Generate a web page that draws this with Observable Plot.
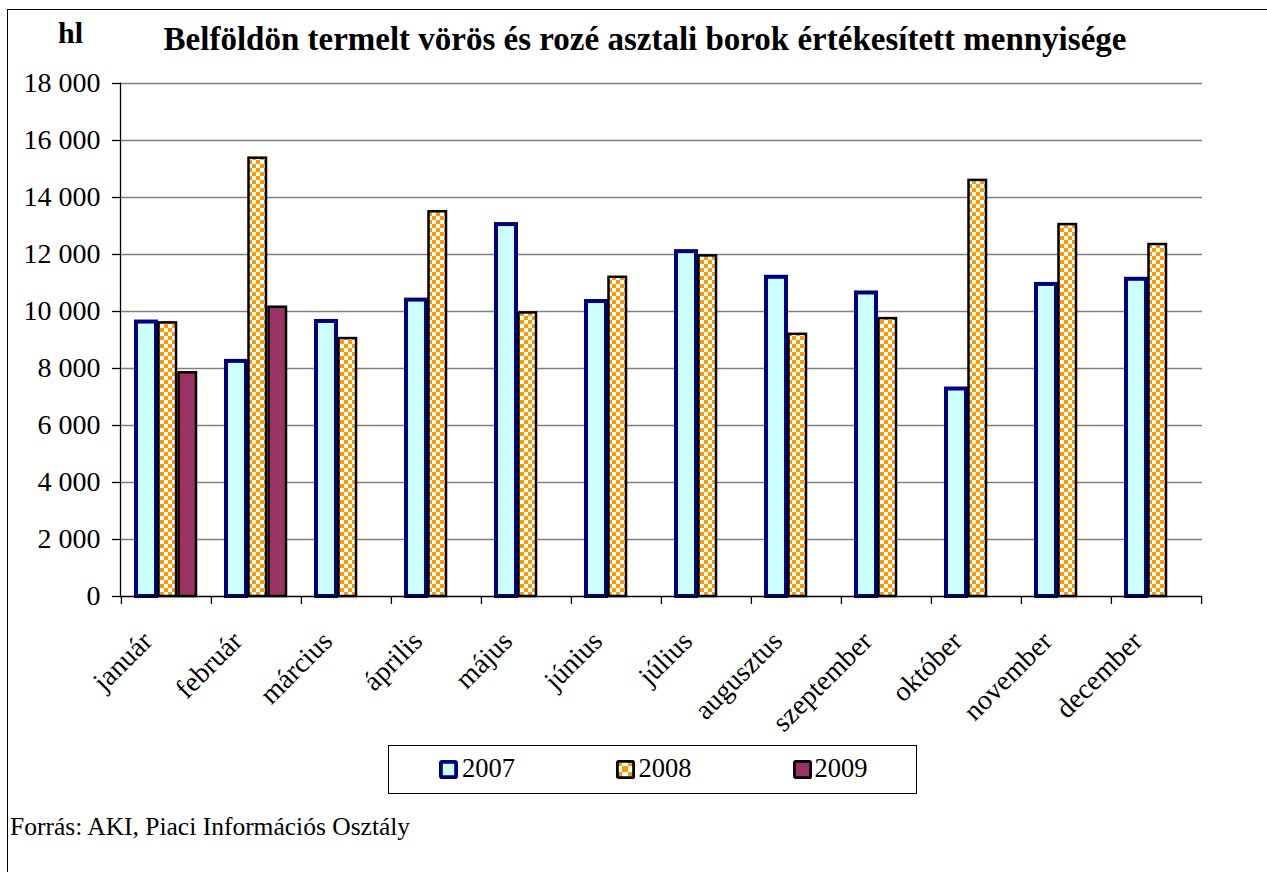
<!DOCTYPE html>
<html>
<head>
<meta charset="utf-8">
<script src="https://cdn.jsdelivr.net/npm/d3@7"></script>
<script src="https://cdn.jsdelivr.net/npm/@observablehq/plot@0.6"></script>
<style>
  body { margin: 0; background: #fff; font-family: "Liberation Serif", "Times New Roman", serif; color: #000; }
  #page { position: relative; width: 1267px; height: 872px; overflow: hidden; background: #fff; }
  #frame { position: absolute; left: 7px; top: 9px; width: 1400px; height: 1000px; border-left: 1.5px solid #000; border-top: 1.5px solid #000; box-sizing: border-box; }
  #chart { position: absolute; left: 0; top: 0; }
  #hl { position: absolute; left: 58px; top: 18px; font-size: 30px; font-weight: bold; line-height: 1; }
  #title { position: absolute; left: 645px; top: 22.5px; transform: translateX(-50%); font-size: 33px; font-weight: bold; line-height: 1; white-space: nowrap; }
  #legend { position: absolute; left: 388px; top: 745px; width: 529px; height: 48.5px; border: 1.5px solid #000; box-sizing: border-box; }
  .sw { position: absolute; top: 13.7px; }
  .lt { position: absolute; top: 9.3px; font-size: 26.5px; line-height: 1; }
  #caption { position: absolute; left: 10px; top: 813.6px; font-size: 25.5px; line-height: 1; white-space: nowrap; }
</style>
</head>
<body>
<div id="page">
  <div id="frame"></div>
  <div id="chart"></div>
  <div id="hl">hl</div>
  <div id="title">Belföldön termelt vörös és rozé asztali borok értékesített mennyisége</div>
  <div id="legend"></div>
  <div id="caption">Forrás: AKI, Piaci Információs Osztály</div>
</div>
<script>
const months = ["január","február","március","április","május","június","július","augusztus","szeptember","október","november","december"];
const years = ["2007","2008","2009"];
const v2007 = [9630, 8250, 9650, 10400, 13050, 10350, 12100, 11200, 10650, 7280, 10950, 11130];
const v2008 = [9600, 15380, 9050, 13500, 9950, 11200, 11950, 9200, 9750, 14600, 13050, 12350];
const v2009 = [7850, 10150];
const yTicks = [0, 2000, 4000, 6000, 8000, 10000, 12000, 14000, 16000, 18000];

const seriesStyle = {
  "2007": {fill: "#CCFFFF", stroke: "#000080", strokeWidth: 4, insetLeft: 15, insetRight: 55},
  "2008": {fill: "url(#chk)", stroke: "#000", strokeWidth: 2.5, insetLeft: 37.5, insetRight: 35},
  "2009": {fill: "#993366", stroke: "#000", strokeWidth: 2.5, insetLeft: 57.5, insetRight: 15}
};
const values = {"2007": v2007, "2008": v2008, "2009": v2009};
const rows = y => values[y].map((v, i) => ({month: months[i], year: y, value: v}));

const fmt = d => d3.format(",")(d).replace(/,/g, " ");

const plot = Plot.plot({
  width: 1267,
  height: 740,
  marginTop: 83,
  marginLeft: 120,
  marginRight: 65,
  marginBottom: 144,
  style: {background: "transparent", fontFamily: "'Liberation Serif', 'Times New Roman', serif", color: "#000"},
  x: {type: "band", domain: months, padding: 0, label: null},
  y: {domain: [0, 18000], label: null},
  marks: [
    Plot.gridY(yTicks.filter(d => d > 0), {stroke: "#808080", strokeOpacity: 1, strokeWidth: 1.4}),
    ...years.map(y => Plot.barY(rows(y), {x: "month", y: "value", ...seriesStyle[y]})),
    Plot.ruleY([0], {stroke: "#000", strokeWidth: 1.3}),
    Plot.frame({anchor: "left", stroke: "#000", strokeWidth: 1.3}),
    Plot.axisY({ticks: yTicks, tickSize: 8, tickPadding: 12, tickFormat: fmt, fontSize: 28, label: null, stroke: "#000", strokeWidth: 1.3}),
    Plot.axisX({tickSize: 8, tickFormat: () => "", dx: -90.17 / 2, label: null, stroke: "#000", strokeWidth: 1.3}),
    Plot.axisX({ticks: ["december"], tickSize: 8, tickFormat: () => "", dx: 90.17 / 2, label: null, stroke: "#000", strokeWidth: 1.3}),
    Plot.axisX({tickSize: 0, tickRotate: -45, tickPadding: 40, fontSize: 28, label: null, dx: -19})
  ]
});

const svg = d3.select(plot);
const defs = svg.insert("defs", ":first-child");
function addPattern(d, id, s) {
  const p = d.append("pattern").attr("id", id).attr("patternUnits", "userSpaceOnUse").attr("width", 2 * s).attr("height", 2 * s);
  p.append("rect").attr("width", 2 * s).attr("height", 2 * s).attr("fill", "#fff");
  p.append("rect").attr("width", s).attr("height", s).attr("fill", "#FF9900");
  p.append("rect").attr("x", s).attr("y", s).attr("width", s).attr("height", s).attr("fill", "#FF9900");
}
addPattern(defs, "chk", 4);
document.getElementById("chart").appendChild(plot);

// legend
const legend = d3.select("#legend");
const swX = {"2007": 49.5, "2008": 227, "2009": 404};
const txX = {"2007": 73, "2008": 249.5, "2009": 425.5};
const legendFill = {"2007": "#CCFFFF", "2008": "url(#chkL)", "2009": "#993366"};
const legendStroke = {"2007": "#000080", "2008": "#000", "2009": "#000"};
const legendSW = {"2007": 3.8, "2008": 2.8, "2009": 2.8};
years.forEach(y => {
  const s = legend.append("svg").attr("class", "sw").style("left", swX[y] + "px").attr("width", 19).attr("height", 19);
  if (y === "2008") addPattern(s.append("defs"), "chkL", 6);
  const sw = legendSW[y];
  s.append("rect").attr("x", sw / 2).attr("y", sw / 2).attr("width", 19 - sw).attr("height", 19 - sw).attr("rx", 1.2)
    .attr("fill", legendFill[y]).attr("stroke", legendStroke[y]).attr("stroke-width", sw);
  legend.append("div").attr("class", "lt").style("left", txX[y] + "px").text(y);
});
</script>
</body>
</html>
